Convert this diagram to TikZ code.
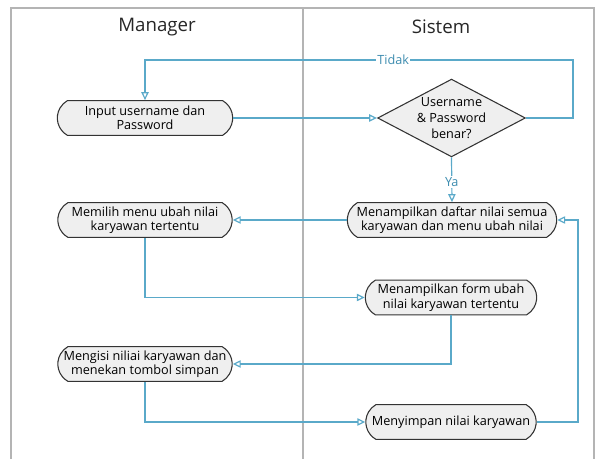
\documentclass[tikz,border=0pt]{standalone}
\usepackage{fontspec}
\setmainfont{Open Sans}
\usetikzlibrary{shapes.geometric,shapes.misc,arrows.meta}
\definecolor{lane}{HTML}{B4B4B4}
\definecolor{flow}{HTML}{5AA9C9}
\definecolor{flowtxt}{HTML}{3E8DB0}
\definecolor{nodefill}{HTML}{EFEFEF}
\definecolor{nodeline}{HTML}{333333}
\tikzset{
  x=0.75pt, y=-0.75pt,
  lanebar/.style={draw=lane, line width=1.2pt},
  act/.style={rounded rectangle, rounded rectangle arc length=120, draw=nodeline, fill=nodefill,
    line width=0.8pt, align=center, inner sep=1pt, font=\fontsize{9.5}{10.8}\selectfont,
    minimum height=26pt},
  dec/.style={diamond, draw=nodeline, fill=nodefill, line width=0.8pt, align=center,
    inner sep=0pt, minimum width=108.75pt, minimum height=57pt, aspect=1.9,
    font=\fontsize{9.5}{12}\selectfont},
  flowline/.style={draw=flow, line width=0.9pt, -{Triangle[open, length=6pt, width=5.5pt]}},
  flowlbl/.style={fill=white, text=flowtxt, inner sep=1pt, font=\fontsize{9.5}{10}\selectfont},
  hdr/.style={font=\fontsize{14}{16}\selectfont, text=black!85}
}
\begin{document}
\begin{tikzpicture}
\useasboundingbox (0,0) rectangle (597,459);
% swimlanes
\draw[lanebar] (11,459) -- (11,8) -- (594,8) -- (594,459);
\draw[lanebar] (303,8) -- (303,459);
\node[hdr] (hmgr) at (157,27) {Manager};
\node[hdr] (hsys) at (441,27) {Sistem};
% nodes
\node[act, minimum width=133.5pt] (input) at (145,118) {Input username dan\\Password};
\node[dec] (cek) at (451.5,118) {Username\\\& Password\\benar?};
\node[act, minimum width=132.75pt] (pilih) at (145,220) {Memilih menu ubah nilai\\karyawan tertentu};
\node[act, minimum width=159pt] (daftar) at (452,220) {Menampilkan daftar nilai semua\\karyawan dan menu ubah nilai};
\node[act, minimum width=130.5pt] (form) at (451,297.5) {Menampilkan form ubah\\nilai karyawan tertentu};
\node[act, minimum width=132.75pt] (isi) at (145,364) {Mengisi niliai karyawan dan\\menekan tombol simpan};
\node[act, minimum width=129.75pt] (simpan) at (451,422) {Menyimpan nilai karyawan};
% connectors
\draw[flowline] (input.east) -- (cek.west);
\coordinate (t1) at (573,118);
\coordinate (t2) at (573,60);
\coordinate (t3) at (145,60);
\draw[flowline] (cek.east) -- (t1) -- (t2) -- node[flowlbl, pos=0.42] (tidak) {Tidak} (t3) -- (input.north);
\draw[flowline] (cek.south) -- node[flowlbl, pos=0.55] (ya) {Ya} (daftar.north);
\draw[flowline] (daftar.west) -- (pilih.east);
\coordinate (p1) at (145,297.5);
\draw[flowline] (pilih.south) -- (p1) -- (form.west);
\coordinate (f1) at (451,364);
\draw[flowline] (form.south) -- (f1) -- (isi.east);
\coordinate (i1) at (145,422);
\draw[flowline] (isi.south) -- (i1) -- (simpan.west);
\coordinate (s1) at (578,422);
\coordinate (s2) at (578,220);
\draw[flowline] (simpan.east) -- (s1) -- (s2) -- (daftar.east);
\end{tikzpicture}
\end{document}
